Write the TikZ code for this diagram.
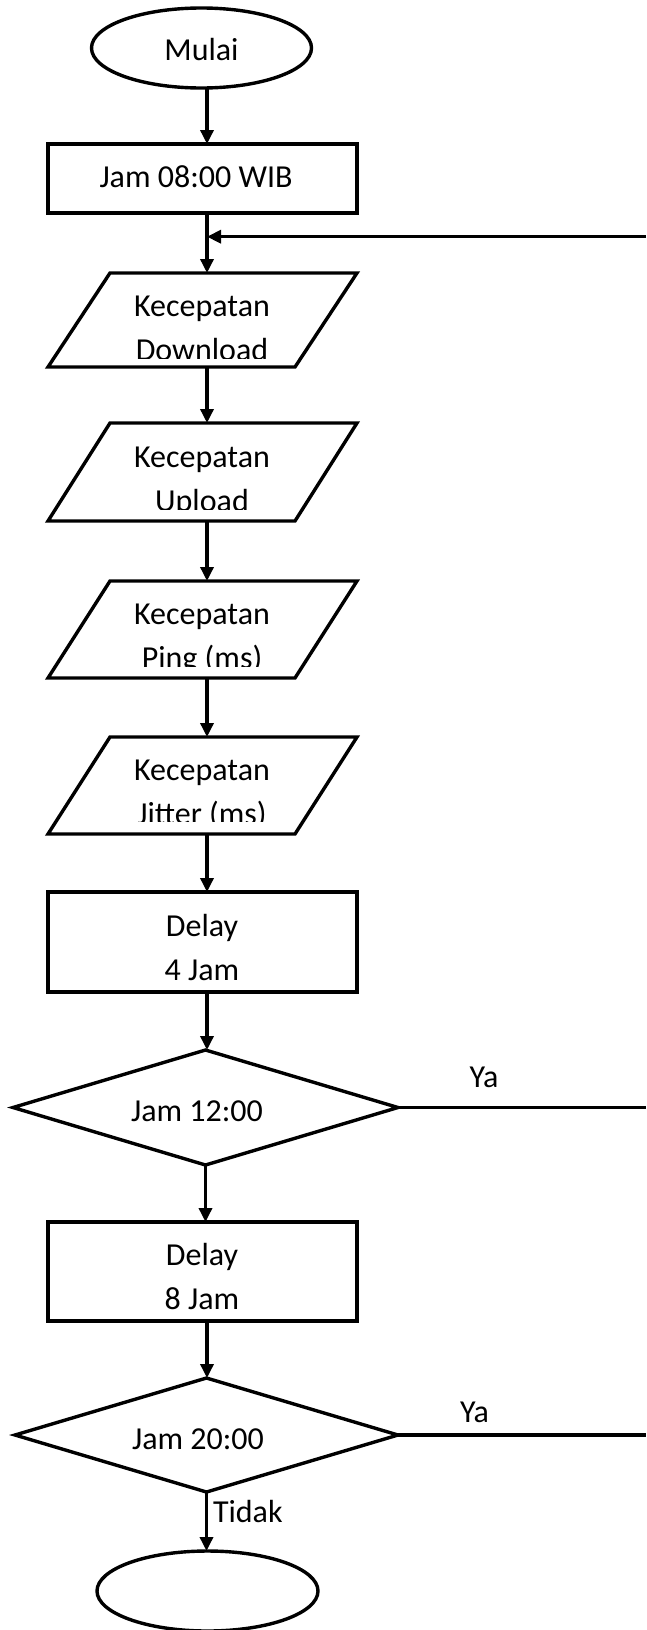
\documentclass[tikz,border=0pt]{standalone}
\usepackage{fontspec}
\setmainfont{Carlito}
\usetikzlibrary{shapes.geometric,arrows.meta,calc}
\begin{document}
\begin{tikzpicture}[x=1pt,y=-1pt,
  shp/.style={draw=black,line width=3.4pt,line join=miter},
  term/.style={shp,ellipse,inner sep=0pt,outer sep=0pt},
  proc/.style={shp,rectangle,minimum width=309pt,inner sep=0pt,outer sep=0pt},
  iobox/.style={rectangle,minimum width=309pt,inner sep=0pt,outer sep=0pt},
  dec/.style={shp,diamond,inner sep=0pt,outer sep=0pt},
  txt/.style={anchor=base,inner sep=0pt,outer sep=0pt,font=\fontsize{32}{44}\selectfont},
  arr/.style={line width=3.4pt,-{Triangle[length=14pt,width=13pt]}},
  ln/.style={line width=3.4pt},
]
\useasboundingbox (0,0) rectangle (646,1630);
\coordinate (spine) at (207,0);
\coordinate (edge) at (646,0);

% start
\node[term,minimum width=220pt,minimum height=80pt] (start) at (201.5,48) {};
\node[txt] (tstart) at (201.5,60.7) {Mulai};

% Jam 08:00
\node[proc,minimum height=69pt] (r1) at (202.5,178.5) {};
\node[txt] (tr1) at (196,187) {Jam 08:00 WIB};

% parallelograms (invisible frames, outlines drawn below)
\node[iobox,minimum height=94pt] (p1) at (202.5,320) {};
\node[iobox,minimum height=98pt] (p2) at (202.5,472) {};
\node[iobox,minimum height=97pt] (p3) at (202.5,629.5) {};
\node[iobox,minimum height=97pt] (p4) at (202.5,785.5) {};
\foreach \p in {p1,p2,p3,p4}{
  \draw[shp] ($(\p.north west)+(62,0)$) -- (\p.north east) -- ($(\p.south east)+(-62,0)$) -- (\p.south west) -- cycle;
}

\node[txt] (tp1a) at (202,316) {Kecepatan};
\begin{scope}
  \clip (0,273) rectangle (646,358);
  \node[txt] (tp1b) at (202,360) {Download};
\end{scope}
\node[txt] (tp2a) at (202,467) {Kecepatan};
\begin{scope}
  \clip (0,423) rectangle (646,509);
  \node[txt] (tp2b) at (202,511) {Upload};
\end{scope}
\node[txt] (tp3a) at (202,624) {Kecepatan};
\begin{scope}
  \clip (0,581) rectangle (646,666);
  \node[txt] (tp3b) at (202,668) {Ping (ms)};
\end{scope}
\node[txt] (tp4a) at (202,780) {Kecepatan};
\begin{scope}
  \clip (0,737) rectangle (646,821);
  \node[txt] (tp4b) at (202,824) {Jitter (ms)};
\end{scope}

% Delay 4 Jam
\node[proc,minimum height=100pt] (r2) at (202.5,942) {};
\node[txt] (tr2a) at (202,936) {Delay};
\node[txt] (tr2b) at (202,980) {4 Jam};

% decision 12:00
\node[dec,minimum width=385pt,minimum height=115pt] (d1) at (205.5,1107.5) {};
\node[txt] (td1) at (197,1121) {Jam 12:00};

% Delay 8 Jam
\node[proc,minimum height=99pt] (r3) at (202.5,1271.5) {};
\node[txt] (tr3a) at (202,1265) {Delay};
\node[txt] (tr3b) at (202,1309) {8 Jam};

% decision 20:00
\node[dec,minimum width=383pt,minimum height=114pt] (d2) at (206.5,1435) {};
\node[txt] (td2) at (198,1449) {Jam 20:00};

% end
\node[term,minimum width=221pt,minimum height=80pt] (stop) at (207.5,1591) {};

% connectors
\draw[arr] (start.south -| spine) -- (r1.north -| spine);
\draw[arr] (r1.south -| spine) -- (p1.north -| spine);
\coordinate (fb) at (646,236.7);
\draw[arr] (fb) -- (fb -| spine);
\draw[arr] (p1.south -| spine) -- (p2.north -| spine);
\draw[arr] (p2.south -| spine) -- (p3.north -| spine);
\draw[arr] (p3.south -| spine) -- (p4.north -| spine);
\draw[arr] (p4.south -| spine) -- (r2.north -| spine);
\draw[arr] (r2.south -| spine) -- (d1.north -| spine);
\draw[arr] (d1.south) -- (d1.south |- r3.north);
\draw[arr] (r3.south -| spine) -- (d2.north -| spine);
\draw[arr] (d2.south) -- (d2.south |- stop.north);
\draw[ln] (d1.east) -- (d1.east -| edge);
\draw[ln] (d2.east) -- (d2.east -| edge);

% branch labels
\node[txt] (ya1) at (484,1087) {Ya};
\node[txt] (ya2) at (474.5,1422) {Ya};
\node[txt,anchor=base west] (tidak) at (213,1522) {Tidak};
\end{tikzpicture}
\end{document}
